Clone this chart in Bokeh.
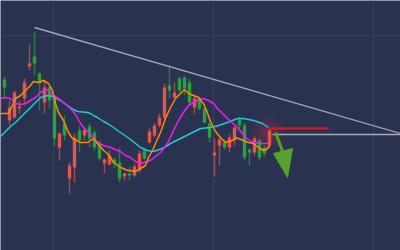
from bokeh.plotting import figure
from bokeh.models import Range1d, FixedTicker
from bokeh.embed import file_html
from bokeh.resources import INLINE

# ---- data (level units: 0 bottom .. 250 top) ----
candle_x = [-1 + 5 * i for i in range(55)]
candle_dir = ["d","u","d","d","d","d","d","u","u","d","u","u","d","u","d","d","u","d","u","u",
              "u","d","d","u","u","d","u","d","d","u","d","d","d","d","u","d","u","u","u","d",
              "u","u","u","d","d","u","d","d","u","u","u","d","u","u","d"]
# body top / bottom, wick top / bottom (pixel rows, converted below)
body_top = [100,79,107,92,106,82,63,56,73,87,87,97,133,123,165,137,130,129,126,132,
            142,159,155,159,162,173,173,166,153,150,131,125,117,87,85,92,78,77,82,98,
            98,108,123,152,139,142,137,127,119,125,149,138,140,147,130]
body_bot = [113,87,120,117,108,98,66,63,83,102,100,138,147,135,178,167,140,135,138,147,
            158,163,164,163,178,176,175,175,170,158,142,135,125,117,90,97,90,88,102,107,
            108,122,137,155,145,147,147,140,125,157,152,152,157,153,145]
wick_top = [98,76,100,90,100,78,44,31,72,80,85,95,132,115,162,133,126,127,123,129,
            140,158,150,157,147,172,166,163,150,148,128,122,113,83,65,82,76,75,78,95,
            96,107,120,138,137,139,134,125,116,122,148,136,138,145,128]
wick_bot = [122,97,125,118,113,105,70,75,110,113,108,145,160,140,193,182,152,140,147,150,
            160,173,165,168,182,180,180,177,172,160,143,137,127,120,98,98,92,95,105,113,
            110,123,142,176,165,149,152,145,128,160,165,155,160,156,148]

orange_x = [0,8,12,15,20,25,30,33,38,43,48,52,55,58,63,68,72,80,87,90,93,97,100,103,107,110,
            113,117,120,123,127,130,133,137,140,145,148,152,155,160,165,170,175,180,184,188,
            193,198,203,206,210,215,220,225,228,232,235,238,243,248,253,258,263,266,269]
orange_px = [113,113,105,98,95,90,85,81,82,80,83,90,103,112,120,132,138,142,142,140,138,143,
             146,150,153,157,162,165,167,168,170,170,171,170,168,165,157,150,143,132,118,107,
             98,93,89,93,95,97,103,110,121,131,137,142,141,140,137,138,140,142,143,147,150,149,145]

magenta_x = [0,5,10,15,20,25,30,35,40,45,48,53,58,63,70,75,80,85,90,97,103,110,117,120,125,
             130,135,140,150,160,167,173,178,183,188,193,198,203,208,213,217,227,237,245,252,260,268]
magenta_px = [98,97,98,103,104,103,100,97,92,89,90,95,98,102,108,114,123,129,134,142,145,147,
              150,151,155,157,161,163,160,152,143,130,120,112,105,102,99,98,100,103,108,118,
              127,137,142,143,143]

cyan_x = [0,5,10,15,20,25,30,35,40,47,53,60,67,73,77,87,90,93,97,100,103,107,110,113,117,120,
          123,127,130,135,140,147,153,162,170,180,190,200,210,218,227,237,243,253,262,268]
cyan_px = [136,131,126,122,117,112,107,102,97,95,96,100,105,109,111,112,113,115,117,119,121,
           123,125,127,130,132,134,137,139,143,147,150,151,148,143,138,133,128,127,125,122,
           118,118,120,123,127]

trend_x = [34, 400]
trend_px = [27, 133]
support_x = [272, 400]
support_px = [134, 134]
resist_x = [269, 328]
resist_px = [128, 128]
arrow_x = [275, 284]
arrow_px = [132, 156]
head_x = [273, 292, 287]
head_px = [153, 148, 177]
glow_x, glow_px = 267, 132

H = 250
def lv(a):
    return [H - v for v in a]

BG = "#29334f"
GREEN = "#2c9f3f"
RED = "#e4564d"

p = figure(width=400, height=250, output_backend="svg", toolbar_location=None,
           x_range=Range1d(0, 400), y_range=Range1d(0, 250),
           min_border=0, min_border_left=0, min_border_right=0,
           min_border_top=0, min_border_bottom=0,
           background_fill_color=BG, border_fill_color=BG,
           outline_line_color=None, x_axis_location=None, y_axis_location=None)
p.xgrid.ticker = FixedTicker(ticks=[53, 213, 373])
p.ygrid.ticker = FixedTicker(ticks=[H - 35])
p.grid.grid_line_color = "#37415f"
p.grid.grid_line_width = 1

# glow
for r, a in [(18, 0.05), (14, 0.06), (10, 0.08), (6, 0.1), (3, 0.15)]:
    p.circle(x=[glow_x], y=[H - glow_px], radius=r, fill_color="#ff2a3a",
             fill_alpha=a, line_color=None)

cols = [GREEN if d == "u" else RED for d in candle_dir]
tops = lv(body_top)
bots = [min(H - b, t - 1.2) for b, t in zip(body_bot, tops)]
p.segment(x0=candle_x, x1=candle_x, y0=lv(wick_top), y1=lv(wick_bot),
          line_color=cols, line_width=1.4, line_alpha=0.65)
p.vbar(x=candle_x, width=3.4, top=tops, bottom=bots, fill_color=cols,
       line_color=None)

p.line(cyan_x, lv(cyan_px), line_color="#1fc9da", line_width=1.5)
p.line(magenta_x, lv(magenta_px), line_color="#f01cf0", line_width=1.5)
p.line(orange_x, lv(orange_px), line_color="#ff8a00", line_width=1.5)

p.line(trend_x, lv(trend_px), line_color="#a3a5b0", line_width=1.4)
p.line(support_x, lv(support_px), line_color="#a8aab3", line_width=1.4)
p.line(resist_x, lv(resist_px), line_color="#e3101f", line_width=2.6)
p.line(arrow_x, lv(arrow_px), line_color="#56a02b", line_width=3)
p.patch(head_x, lv(head_px), fill_color="#56a02b", line_color="#56a02b", line_width=1)

open("out.html", "w").write(file_html(p, INLINE))
